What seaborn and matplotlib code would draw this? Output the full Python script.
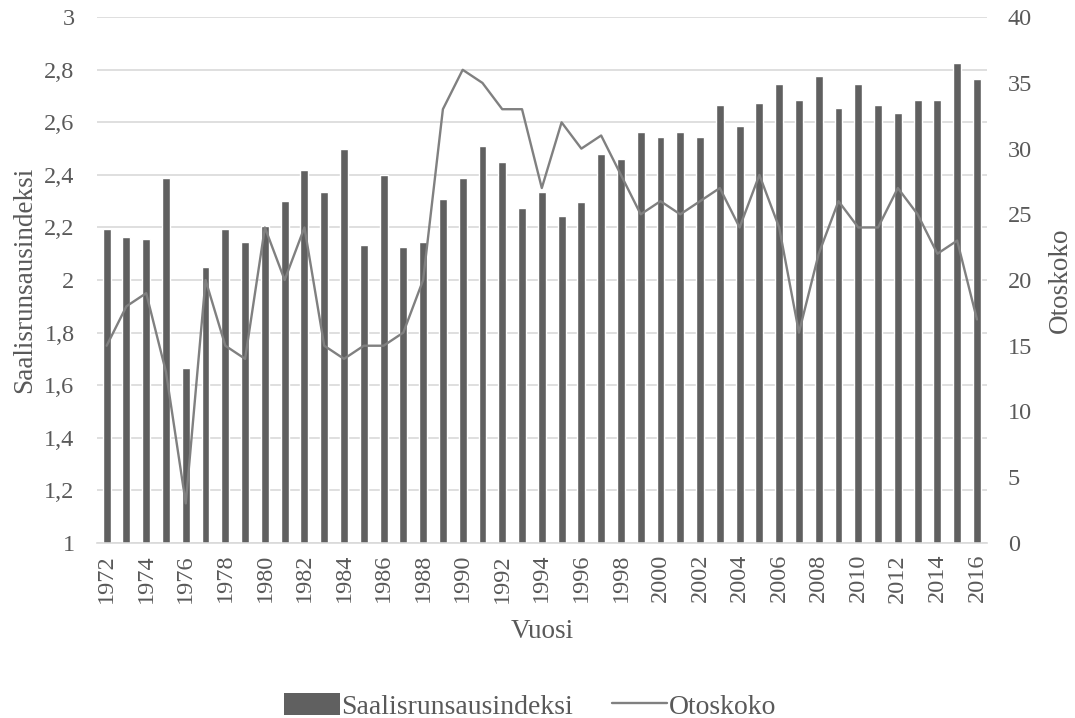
import numpy as np
import pandas as pd
import matplotlib
matplotlib.use("Agg")
import matplotlib.pyplot as plt
import seaborn as sns
from matplotlib.patches import Patch
from matplotlib.lines import Line2D

years = list(range(1972, 2017))

saalisrunsausindeksi = [
    2.195, 2.165, 2.155, 2.39, 1.665, 2.05, 2.195, 2.145, 2.205, 2.30,
    2.42, 2.335, 2.50, 2.135, 2.40, 2.125, 2.145, 2.31, 2.39, 2.51,
    2.45, 2.275, 2.335, 2.245, 2.295, 2.48, 2.46, 2.565, 2.545, 2.565,
    2.545, 2.665, 2.585, 2.675, 2.745, 2.685, 2.775, 2.655, 2.745, 2.665,
    2.635, 2.685, 2.685, 2.825, 2.765,
]

otoskoko = [
    15, 18, 19, 13, 3, 20, 15, 14, 24, 20,
    24, 15, 14, 15, 15, 16, 20, 33, 36, 35,
    33, 33, 27, 32, 30, 31, 28, 25, 26, 25,
    26, 27, 24, 28, 24, 16, 22, 26, 24, 24,
    27, 25, 22, 23, 17,
]

left_ticks = [1.0, 1.2, 1.4, 1.6, 1.8, 2.0, 2.2, 2.4, 2.6, 2.8, 3.0]
left_tick_labels = ["1", "1,2", "1,4", "1,6", "1,8", "2", "2,2", "2,4", "2,6", "2,8", "3"]
right_ticks = [0, 5, 10, 15, 20, 25, 30, 35, 40]

df = pd.DataFrame({
    "Vuosi": [str(y) for y in years],
    "pos": np.arange(len(years)),
    "Saalisrunsausindeksi": saalisrunsausindeksi,
    "Otoskoko": otoskoko,
})

sns.set_theme(style="white")
plt.rcParams["font.family"] = ["Liberation Serif", "DejaVu Serif"]

text_color = "#595959"
bar_color = "#606060"
line_color = "#808080"
grid_color = "#d9d9d9"
tick_size = 17.5
label_size = 19.5

fig = plt.figure(figsize=(10.75, 7.18), dpi=100)
ax = fig.add_axes([0.090, 0.244, 0.828, 0.732])

sns.barplot(data=df, x="Vuosi", y="Saalisrunsausindeksi", color=bar_color,
            saturation=1, width=0.4, ax=ax, zorder=2)

ax.set_ylim(1, 3)
ax.set_xlim(-0.5, len(years) - 0.5)
ax.set_yticks(left_ticks)
ax.set_yticklabels(left_tick_labels)
ax.yaxis.grid(True, color=grid_color, linewidth=1.2, zorder=0)
ax.set_axisbelow(True)
ax.set_xticks(np.arange(0, len(years), 2))
ax.set_xticklabels([str(y) for y in years[::2]], rotation=90)
ax.tick_params(axis="x", length=0, labelsize=tick_size, colors=text_color, pad=8)
ax.tick_params(axis="y", length=0, labelsize=tick_size, colors=text_color, pad=16)
ax.set_ylabel("Saalisrunsausindeksi", fontsize=label_size, color=text_color, labelpad=5)
ax.set_xlabel("Vuosi", fontsize=label_size, color=text_color, labelpad=12)
for s in ax.spines.values():
    s.set_visible(False)
ax.spines["bottom"].set_visible(True)
ax.spines["bottom"].set_color(grid_color)
ax.spines["bottom"].set_linewidth(1.2)

ax2 = ax.twinx()
sns.lineplot(data=df, x="pos", y="Otoskoko", color=line_color, linewidth=1.7,
             ax=ax2, zorder=3)
ax2.set_ylim(0, 40)
ax2.set_yticks(right_ticks)
ax2.set_yticklabels([str(t) for t in right_ticks])
ax2.tick_params(axis="y", length=0, labelsize=tick_size, colors=text_color, pad=15)
ax2.set_ylabel("Otoskoko", fontsize=label_size, color=text_color, labelpad=11)
ax2.set_xlim(-0.5, len(years) - 0.5)
for s in ax2.spines.values():
    s.set_visible(False)

handles = [
    Patch(facecolor=bar_color, edgecolor="none", label="Saalisrunsausindeksi"),
    Line2D([0], [0], color=line_color, linewidth=1.7, label="Otoskoko"),
]
leg = fig.legend(handles=handles, loc="lower center", bbox_to_anchor=(0.493, -0.037),
                 ncol=2, frameon=False, fontsize=20, handlelength=2.0,
                 handleheight=0.8, handletextpad=0.05, columnspacing=1.4)
for t in leg.get_texts():
    t.set_color(text_color)

fig.savefig("out.png", dpi=100)
